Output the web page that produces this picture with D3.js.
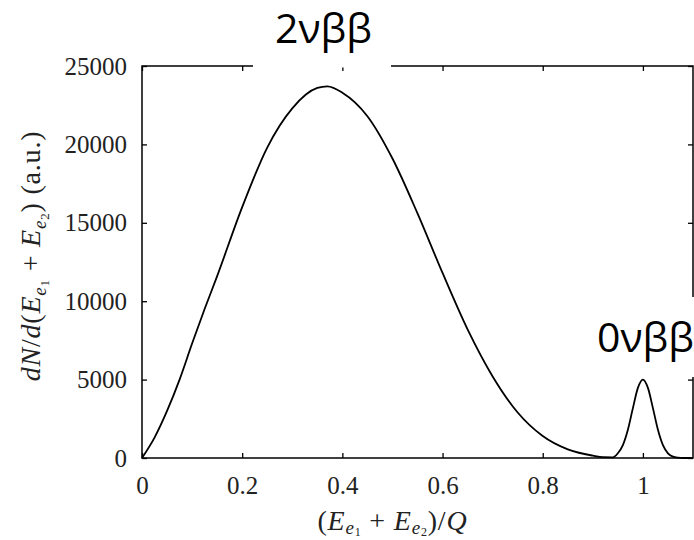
<!DOCTYPE html>
<html>
<head>
<meta charset="utf-8">
<script src="https://cdn.jsdelivr.net/npm/d3@7"></script>
<style>
  html, body { margin: 0; padding: 0; background: #fff; }
  svg { display: block; }
</style>
</head>
<body>
<div id="chart"></div>
<script>
// energy fraction (E1+E2)/Q and summed spectrum
const energy = [0, 0.025, 0.05, 0.075, 0.1, 0.125, 0.15, 0.2, 0.25, 0.3, 0.35, 0.37, 0.4, 0.45, 0.5, 0.55, 0.6,
  0.65, 0.7, 0.75, 0.8, 0.85, 0.9, 0.92, 0.94, 0.95, 0.96, 0.97, 0.98, 0.99, 1.0,
  1.01, 1.02, 1.03, 1.04, 1.05, 1.06, 1.07, 1.08, 1.1];
const counts = [0, 1300, 3000, 5000, 7300, 9500, 11600, 16000, 19800, 22300, 23600, 23700, 23300, 21800, 19100, 15600, 11800,
  8200, 5200, 2900, 1400, 550, 150, 50, 40, 300, 820, 1800, 3180, 4470, 5000,
  4470, 3180, 1800, 820, 300, 85, 20, 0, 0];

const xTicks = [0, 0.2, 0.4, 0.6, 0.8, 1];
const xTickLabels = ["0", "0.2", "0.4", "0.6", "0.8", "1"];
const yTicks = [0, 5000, 10000, 15000, 20000, 25000];
const yTickLabels = ["0", "5000", "10000", "15000", "20000", "25000"];

const W = 694, H = 540;
const mLeft = 142, mRight = 693, mTop = 66, mBottom = 458;

const svg = d3.select("#chart").append("svg")
  .attr("width", W).attr("height", H);

const x = d3.scaleLinear().domain([0, 1.1]).range([mLeft, mRight]);
const y = d3.scaleLinear().domain([0, 25000]).range([mBottom, mTop]);

const serif = "'Liberation Serif', 'DejaVu Serif', serif";

// frame
svg.append("rect")
  .attr("x", mLeft).attr("y", mTop)
  .attr("width", mRight - mLeft).attr("height", mBottom - mTop)
  .attr("fill", "none").attr("stroke", "#000").attr("stroke-width", 1.5);

// ticks pointing inwards, labels on left and bottom
const axB = svg.append("g").attr("transform", `translate(0,${mBottom})`)
  .call(d3.axisBottom(x).tickValues(xTicks).tickFormat((d, i) => xTickLabels[i])
    .tickSizeInner(-5).tickSizeOuter(0).tickPadding(18));
const axL = svg.append("g").attr("transform", `translate(${mLeft},0)`)
  .call(d3.axisLeft(y).tickValues(yTicks).tickFormat((d, i) => yTickLabels[i])
    .tickSizeInner(-5).tickSizeOuter(0).tickPadding(15));
const axT = svg.append("g").attr("transform", `translate(0,${mTop})`)
  .call(d3.axisTop(x).tickValues(xTicks).tickFormat("").tickSizeInner(-5).tickSizeOuter(0));
const axR = svg.append("g").attr("transform", `translate(${mRight},0)`)
  .call(d3.axisRight(y).tickValues(yTicks).tickFormat("").tickSizeInner(-5).tickSizeOuter(0));

[axB, axL, axT, axR].forEach(g => {
  g.select(".domain").remove();
  g.selectAll("line").attr("stroke", "#000").attr("stroke-width", 1.3);
  g.selectAll("text").attr("font-family", serif).attr("font-size", 25).attr("fill", "#222");
});

// spectrum
const line = d3.line()
  .x((d, i) => x(energy[i]))
  .y(d => y(d))
  .curve(d3.curveMonotoneX);

svg.append("path")
  .datum(counts)
  .attr("d", line)
  .attr("fill", "none")
  .attr("stroke", "#000")
  .attr("stroke-width", 1.8);

// axis titles
const yTitle = svg.append("text")
  .attr("transform", `translate(40,256) rotate(-90)`)
  .attr("text-anchor", "middle")
  .attr("letter-spacing", 0.8)
  .attr("font-family", serif).attr("font-size", 28).attr("fill", "#222");
yTitle.append("tspan").attr("font-style", "italic").text("dN");
yTitle.append("tspan").text("/");
yTitle.append("tspan").attr("font-style", "italic").text("d");
yTitle.append("tspan").text("(");
yTitle.append("tspan").attr("font-style", "italic").text("E");
yTitle.append("tspan").attr("font-style", "italic").attr("font-size", 19).attr("dy", 6).text("e");
yTitle.append("tspan").attr("font-size", 13).attr("dy", 3).text("1");
yTitle.append("tspan").attr("dy", -9).text(" + ");
yTitle.append("tspan").attr("font-style", "italic").text("E");
yTitle.append("tspan").attr("font-style", "italic").attr("font-size", 19).attr("dy", 6).text("e");
yTitle.append("tspan").attr("font-size", 13).attr("dy", 3).text("2");
yTitle.append("tspan").attr("dy", -9).text(") (a.u.)");

const xTitle = svg.append("text")
  .attr("x", x(0.5)).attr("y", 530)
  .attr("text-anchor", "middle")
  .attr("letter-spacing", 0.8)
  .attr("font-family", serif).attr("font-size", 28).attr("fill", "#222");
xTitle.append("tspan").text("(");
xTitle.append("tspan").attr("font-style", "italic").text("E");
xTitle.append("tspan").attr("font-style", "italic").attr("font-size", 19).attr("dy", 4).text("e");
xTitle.append("tspan").attr("font-size", 12).attr("dy", 2).text("1");
xTitle.append("tspan").attr("dy", -6).text(" + ");
xTitle.append("tspan").attr("font-style", "italic").text("E");
xTitle.append("tspan").attr("font-style", "italic").attr("font-size", 19).attr("dy", 4).text("e");
xTitle.append("tspan").attr("font-size", 12).attr("dy", 2).text("2");
xTitle.append("tspan").attr("dy", -6).text(")/");
xTitle.append("tspan").attr("font-style", "italic").text("Q");

// peak labels on white patches
const sans = "'Open Sans', 'Noto Sans', sans-serif";
svg.append("rect").attr("x", 253).attr("y", 0).attr("width", 138).attr("height", 67.5).attr("fill", "#fff");
svg.append("text").attr("x", 275).attr("y", 43)
  .attr("font-family", sans).attr("font-size", 41).attr("fill", "#000")
  .text("2νββ");

svg.append("rect").attr("x", 588).attr("y", 297).attr("width", 106).attr("height", 80).attr("fill", "#fff");
svg.append("text").attr("x", 597).attr("y", 352)
  .attr("font-family", sans).attr("font-size", 41).attr("fill", "#000")
  .text("0νββ");
</script>
</body>
</html>
